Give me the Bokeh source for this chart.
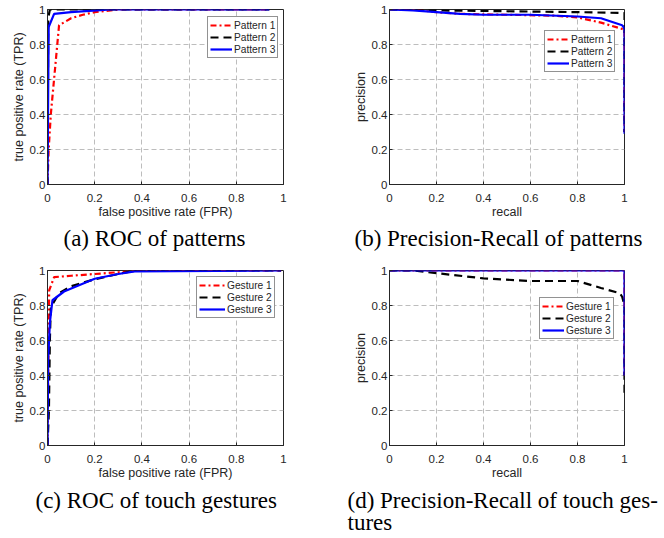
from bokeh.plotting import figure
from bokeh.layouts import gridplot
from bokeh.models import FixedTicker, CustomJSTickFormatter, Legend, LegendItem, Title
from bokeh.embed import file_html
from bokeh.resources import INLINE

# ---------------- data ----------------
ticks = [0, 0.2, 0.4, 0.6, 0.8, 1]

# (a) ROC of patterns
roc_p1_x = [0, 0.005, 0.014, 0.049, 0.1, 0.15, 0.2, 0.3, 0.94]
roc_p1_y = [0, 0.2, 0.4, 0.91, 0.95, 0.97, 0.985, 1.0, 1.0]
roc_p2_x = [0, 0.003, 0.01, 0.94]
roc_p2_y = [0, 0.95, 1.0, 1.0]
roc_p3_x = [0, 0.005, 0.028, 0.1, 0.27, 0.94]
roc_p3_y = [0, 0.9, 0.975, 0.985, 1.0, 1.0]

# (b) Precision-Recall of patterns
pr_p1_x = [0, 0.1, 0.2, 0.3, 0.5, 0.7, 0.8, 0.9, 1.0, 1.0]
pr_p1_y = [1.0, 1.0, 0.985, 0.975, 0.97, 0.965, 0.955, 0.925, 0.885, 0.3]
pr_p2_x = [0, 0.2, 0.5, 0.8, 1.0, 1.0]
pr_p2_y = [1.0, 0.995, 0.99, 0.985, 0.98, 0.3]
pr_p3_x = [0, 0.1, 0.2, 0.3, 0.4, 0.6, 0.8, 0.9, 0.99, 1.0, 1.0]
pr_p3_y = [1.0, 0.995, 0.985, 0.975, 0.97, 0.97, 0.96, 0.95, 0.91, 0.89, 0.29]

# (c) ROC of touch gestures
roc_g1_x = [0, 0.007, 0.028, 0.1, 0.2, 0.3, 0.4, 0.99]
roc_g1_y = [0, 0.886, 0.962, 0.97, 0.98, 0.99, 1.0, 1.0]
roc_g2_x = [0, 0.006, 0.01, 0.014, 0.049, 0.1, 0.2, 0.3, 0.37, 0.99]
roc_g2_y = [0, 0.2, 0.6, 0.79, 0.87, 0.91, 0.95, 0.98, 1.0, 1.0]
roc_g3_x = [0, 0.003, 0.01, 0.021, 0.07, 0.2, 0.3, 0.37, 0.99]
roc_g3_y = [0, 0.5, 0.7, 0.83, 0.88, 0.953, 0.98, 0.995, 1.0]

# (d) Precision-Recall of touch gestures
pr_g1_x = [0, 1.0, 1.0]
pr_g1_y = [1.0, 1.0, 0.4]
pr_g2_x = [0, 0.1, 0.2, 0.4, 0.6, 0.8, 0.9, 0.98, 0.99, 1.0, 1.0]
pr_g2_y = [1.0, 1.0, 0.985, 0.955, 0.94, 0.94, 0.9, 0.87, 0.85, 0.8, 0.28]
pr_g3_x = [0, 1.0, 1.0]
pr_g3_y = [1.0, 1.0, 0.4]

captions = ["(a) ROC of patterns", "(b) Precision-Recall of patterns",
            "(c) ROC of touch gestures", "(d) Precision-Recall of touch ges-\ntures"]

SANS = "Liberation Sans"
SERIF = "Liberation Serif"
AX = "#262626"

fmt_code = "return String(Math.round(tick*10)/10)"


def make_fig(width, height, bl, br, bt, bb, xlabel, ylabel):
    p = figure(width=width, height=height, x_range=(0, 1), y_range=(0, 1),
               output_backend="svg", toolbar_location=None,
               min_border_left=bl, min_border_right=br,
               min_border_top=bt, min_border_bottom=bb)
    p.outline_line_color = AX
    p.outline_line_width = 1
    p.outline_line_alpha = 1
    for ax in (p.xaxis[0], p.yaxis[0]):
        ax.ticker = FixedTicker(ticks=ticks)
        ax.formatter = CustomJSTickFormatter(code=fmt_code)
        ax.major_tick_in = 3
        ax.major_tick_out = 0
        ax.minor_tick_line_color = None
        ax.axis_line_color = AX
        ax.major_tick_line_color = AX
        ax.major_label_text_font = SANS
        ax.major_label_text_font_size = "11.5px"
        ax.major_label_text_color = AX
        ax.axis_label_text_font = SANS
        ax.axis_label_text_font_size = "12.5px"
        ax.axis_label_text_font_style = "normal"
        ax.axis_label_text_color = AX
    p.xaxis.major_label_standoff = 9
    p.xaxis.axis_label_standoff = 0
    p.yaxis.major_label_standoff = 2
    p.yaxis.axis_label_standoff = 1
    p.xaxis.axis_label = xlabel
    p.yaxis.axis_label = ylabel
    for g in (p.xgrid[0], p.ygrid[0]):
        g.ticker = FixedTicker(ticks=ticks)
        g.grid_line_color = "#bdbdbd"
        g.grid_line_dash = "5 3"
        g.grid_line_width = 1
    p.background_fill_color = "white"
    p.border_fill_color = "white"
    return p


def add_lines(p, series, names, loc, glyph_w):
    items = []
    styles = [("red", "6 3 2 3"), ("black", "8 5"), ("blue", "solid")]
    for (xs, ys), name, (c, d) in zip(series, names, styles):
        r = p.line(xs, ys, line_color=c, line_width=2.2, line_dash=d)
        items.append(LegendItem(label=name, renderers=[r]))
    lg = Legend(items=items, location=loc)
    lg.label_text_font = SANS
    lg.label_text_font_size = "10.2px"
    lg.label_text_color = AX
    lg.label_height = 12
    lg.glyph_height = 12
    lg.glyph_width = glyph_w
    lg.label_standoff = 2
    lg.spacing = 0
    lg.padding = 2
    lg.margin = 0
    lg.border_line_color = AX
    lg.border_line_width = 0.8
    lg.background_fill_alpha = 1
    p.add_layout(lg, "center")


def caption(p, text, offset, standoff=4):
    t = Title(text=text, align="left", offset=offset, text_font=SERIF,
              text_font_size="23px", text_font_style="normal", text_color="black",
              standoff=standoff, text_line_height=0.88)
    p.add_layout(t, "below")


# (a)
pa = make_fig(332, 262, 47, 49, 9, 78, "false positive rate (FPR)", "true positive rate (TPR)")
add_lines(pa, [(roc_p1_x, roc_p1_y), (roc_p2_x, roc_p2_y), (roc_p3_x, roc_p3_y)],
          ["Pattern 1", "Pattern 2", "Pattern 3"], (160, 126), 22)
caption(pa, captions[0], 16)

# (b)
pb = make_fig(332, 262, 57, 40, 9, 78, "recall", "precision")
add_lines(pb, [(pr_p1_x, pr_p1_y), (pr_p2_x, pr_p2_y), (pr_p3_x, pr_p3_y)],
          ["Pattern 1", "Pattern 2", "Pattern 3"], (155, 112), 22)
caption(pb, captions[1], -35)

# (c)
pc = make_fig(332, 276, 47, 49, 8, 93, "false positive rate (FPR)", "true positive rate (TPR)")
add_lines(pc, [(roc_g1_x, roc_g1_y), (roc_g2_x, roc_g2_y), (roc_g3_x, roc_g3_y)],
          ["Gesture 1", "Gesture 2", "Gesture 3"], (149, 127), 26)
caption(pc, captions[2], -12, 6)

# (d)
pd_ = make_fig(332, 276, 57, 40, 8, 93, "recall", "precision")
add_lines(pd_, [(pr_g1_x, pr_g1_y), (pr_g2_x, pr_g2_y), (pr_g3_x, pr_g3_y)],
          ["Gesture 1", "Gesture 2", "Gesture 3"], (150, 106), 22)
caption(pd_, captions[3], -42, 6)

grid = gridplot([[pa, pb], [pc, pd_]], toolbar_location=None)

open("out.html", "w").write(file_html(grid, INLINE))
